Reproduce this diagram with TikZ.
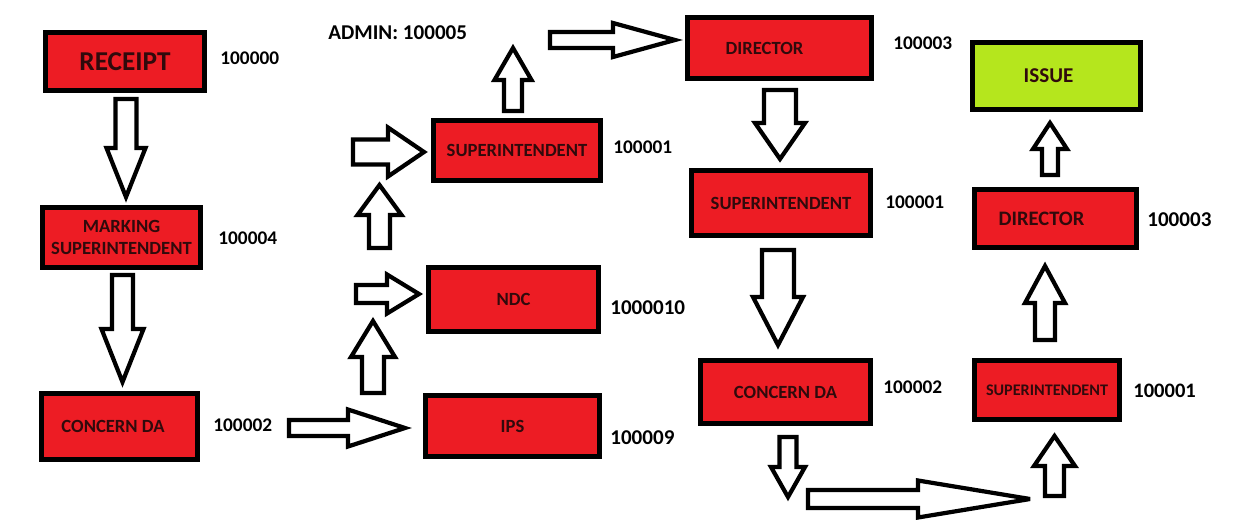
\documentclass[tikz,border=0pt]{standalone}
\usepackage{fontspec}
\setmainfont{Carlito}
\usetikzlibrary{calc}
\definecolor{boxred}{HTML}{ED1C24}
\definecolor{boxlime}{HTML}{B5E61D}
\definecolor{boxtext}{HTML}{300A0C}

% hollow block arrow: tail, tip, shaft half width, head half width, head length (in px)
\newcommand{\blockarrow}[5]{%
  \coordinate (#2b) at ($(#2)!#5*0.02cm!(#1)$);
  \draw[blk] ($(#1)!#3*0.02cm!90:(#2)$) -- ($(#2b)!#3*0.02cm!-90:(#1)$)
    -- ($(#2b)!#4*0.02cm!-90:(#1)$) -- (#2) -- ($(#2b)!#4*0.02cm!90:(#1)$)
    -- ($(#2b)!#3*0.02cm!90:(#1)$) -- ($(#1)!#3*0.02cm!-90:(#2)$) -- cycle;}

\begin{document}
\begin{tikzpicture}[x=0.02cm,y=-0.02cm]
	\tikzstyle{box}=[draw,line width=2.8pt,fill=boxred,text=boxtext,inner sep=0pt,font=\bfseries\fontsize{10.6}{12}\selectfont]
	\tikzstyle{num}=[anchor=west,inner sep=0pt,font=\bfseries\fontsize{11}{13}\selectfont]
	\tikzstyle{blk}=[draw,line width=2.4pt,fill=white,line join=miter,miter limit=4]

	\useasboundingbox (0,0) rectangle (1250,530);

	% boxes
	\node[box,minimum width=3.18cm,minimum height=1.16cm,font=\bfseries\fontsize{15.5}{17}\selectfont] (receipt) at (125,61.5) {RECEIPT};
	\node[box,minimum width=3.16cm,minimum height=1.2cm,align=center] (marking) at (121.5,237.5) {MARKING\\SUPERINTENDENT};
	\node[box,minimum width=3.12cm,minimum height=1.32cm] (concernL) at (119.5,426.5) {\hspace*{-0.26cm}CONCERN DA};
	\node[box,minimum width=3.34cm,minimum height=1.2cm] (superM) at (517,150.5) {SUPERINTENDENT};
	\node[box,minimum width=3.4cm,minimum height=1.28cm] (ndc) at (513.5,299.5) {NDC};
	\node[box,minimum width=3.48cm,minimum height=1.22cm] (ips) at (512.5,426) {IPS};
	\node[box,minimum width=3.68cm,minimum height=1.22cm] (dirT) at (779.5,48) {\hspace*{-0.6cm}DIRECTOR};
	\node[box,minimum width=3.58cm,minimum height=1.3cm] (superRT) at (781,203) {SUPERINTENDENT};
	\node[box,minimum width=3.4cm,minimum height=1.26cm] (concernR) at (785.5,392) {CONCERN DA};
	\node[box,minimum width=2.9cm,minimum height=1.18cm,font=\bfseries\fontsize{9.2}{11}\selectfont] (superS) at (1047,390) {SUPERINTENDENT};
	\node[box,minimum width=3.24cm,minimum height=1.16cm,font=\bfseries\fontsize{11.7}{13}\selectfont] (dirR) at (1055.5,218.5) {\hspace*{-0.56cm}DIRECTOR};
	\node[box,fill=boxlime,minimum width=3.36cm,minimum height=1.34cm,font=\bfseries\fontsize{12}{14}\selectfont] (issue) at (1056.5,76) {\hspace*{-0.32cm}ISSUE};

	% numbers
	\node[num] (n_receipt) at (220,58) {100000};
	\node[num] (n_marking) at (218,238) {100004};
	\node[num] (n_concernL) at (213,425) {100002};
	\node[num,font=\bfseries\fontsize{12}{14}\selectfont] (admin) at (328,33) {ADMIN: 100005};
	\node[num] (n_superM) at (613,147) {100001};
	\node[num,font=\bfseries\fontsize{12}{14}\selectfont] (n_ndc) at (610,308) {1000010};
	\node[num,font=\bfseries\fontsize{12}{14}\selectfont] (n_ips) at (610,438) {100009};
	\node[num] (n_dirT) at (893,43) {100003};
	\node[num] (n_superRT) at (885,202) {100001};
	\node[num] (n_concernR) at (883,387) {100002};
	\node[num,font=\bfseries\fontsize{11.7}{13}\selectfont] (n_superS) at (1133,391) {100001};
	\node[num,font=\bfseries\fontsize{12}{14}\selectfont] (n_dirR) at (1147,220) {100003};

	% arrows
	\coordinate (a1s) at (126,99);    \coordinate (a1t) at (126,197);
	\coordinate (a2s) at (122.5,275); \coordinate (a2t) at (122.5,382);
	\coordinate (a3s) at (289,428);   \coordinate (a3t) at (405,428);
	\coordinate (a4s) at (373,393);   \coordinate (a4t) at (373,321);
	\coordinate (a5s) at (356,294);   \coordinate (a5t) at (419,294);
	\coordinate (a6s) at (379.5,248); \coordinate (a6t) at (379.5,185);
	\coordinate (a7s) at (353,152);   \coordinate (a7t) at (424,152);
	\coordinate (a8s) at (513,111);   \coordinate (a8t) at (513,48);
	\coordinate (a9s) at (550,40);    \coordinate (a9t) at (675,40);
	\coordinate (a10s) at (780,90);   \coordinate (a10t) at (780,159);
	\coordinate (a11s) at (778,250);  \coordinate (a11t) at (778,345);
	\coordinate (a12s) at (788,437);  \coordinate (a12t) at (788,497);
	\coordinate (a13s) at (808,499);  \coordinate (a13t) at (1030,499);
	\coordinate (a14s) at (1054.5,496); \coordinate (a14t) at (1054.5,436);
	\coordinate (a15s) at (1045,340); \coordinate (a15t) at (1045,266);
	\coordinate (a16s) at (1050,175); \coordinate (a16t) at (1050,123);

	\blockarrow{a1s}{a1t}{10.5}{19.5}{49}
	\blockarrow{a2s}{a2t}{10.5}{21}{53}
	\blockarrow{a3s}{a3t}{8}{18.5}{57}
	\blockarrow{a4s}{a4t}{11}{22}{36}
	\blockarrow{a5s}{a5t}{9}{19.5}{32}
	\blockarrow{a6s}{a6t}{10.5}{22}{30}
	\blockarrow{a7s}{a7t}{12.5}{24.5}{36}
	\blockarrow{a8s}{a8t}{9}{18.5}{32}
	\blockarrow{a9s}{a9t}{8}{17}{62}
	\blockarrow{a10s}{a10t}{16}{25}{36}
	\blockarrow{a11s}{a11t}{16}{25}{48}
	\blockarrow{a12s}{a12t}{8.5}{17}{30}
	\blockarrow{a13s}{a13t}{9}{18.5}{112}
	\blockarrow{a14s}{a14t}{9.5}{20.5}{30}
	\blockarrow{a15s}{a15t}{10}{20}{37}
	\blockarrow{a16s}{a16t}{8}{17}{26}
\end{tikzpicture}
\end{document}
